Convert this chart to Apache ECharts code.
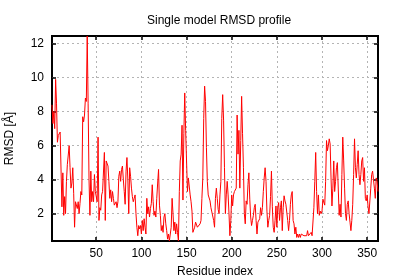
<!DOCTYPE html>
<html>
<head>
<meta charset="utf-8">
<script src="https://cdn.jsdelivr.net/npm/echarts@6/dist/echarts.min.js"></script>
<style>
html,body{margin:0;padding:0;background:#fff;}
#chart{width:400px;height:280px;}
</style>
</head>
<body>
<div id="chart"></div>
<script>
// RMSD per residue (residue 1 .. 362)
var rmsd = [
  8.4, 7.3, 8.0, 7.0, 9.9, 8.5, 6.2, 6.6, 6.5, 6.8,
  6.7, 2.4, 4.4, 1.9, 3.0, 2.0, 3.9, 4.9, 4.8, 6.0,
  4.7, 3.5, 3.8, 4.7, 3.2, 1.2, 2.7, 2.8, 2.3, 2.7,
  2.0, 2.6, 3.3, 3.1, 7.7, 7.4, 7.8, 8.8, 8.6, 12.45,
  8.5, 4.0, 1.9, 4.5, 2.7, 3.3, 2.7, 4.3, 3.3, 3.3,
  2.7, 6.5, 1.6, 2.35, 2.2, 3.1, 3.3, 3.3, 5.6, 1.6,
  5.1, 5.0, 4.8, 3.9, 2.9, 3.4, 2.7, 3.3, 2.9, 2.5,
  2.5, 2.7, 2.35, 2.7, 4.2, 4.5, 3.9, 4.6, 4.8, 4.0,
  3.3, 2.55, 4.5, 5.3, 4.0, 2.0, 4.7, 4.2, 3.5, 3.0,
  2.7, 2.9, 3.1, 2.0, 1.2, 0.7, 1.3, 1.1, 1.3, 0.8,
  1.6, 1.0, 1.7, 1.2, 0.8, 2.9, 2.0, 2.4, 1.8, 2.3,
  2.6, 3.7, 2.7, 1.9, 2.15, 1.8, 2.9, 3.8, 4.6, 2.5,
  1.9, 1.0, 1.3, 0.9, 1.8, 2.0, 1.4, 1.0, 0.5, 0.8,
  0.4, 0.5, 1.2, 2.9, 2.0, 1.0, 1.5, 0.8, 1.4, 0.9,
  0.4, 3.3, 5.1, 5.5, 7.2, 2.8, 6.7, 9.1, 6.9, 6.9,
  3.3, 4.1, 4.0, 3.1, 2.7, 2.15, 0.9, 0.8, 1.2, 1.5,
  1.4, 1.2, 1.3, 1.2, 1.4, 1.6, 2.9, 4.1, 7.6, 9.5,
  8.6, 5.9, 3.9, 3.1, 3.2, 2.75, 2.35, 2.1, 2.0, 1.6,
  1.2, 2.9, 3.5, 2.9, 2.25, 2.0, 3.1, 3.9, 7.6, 9.0,
  7.5, 4.7, 2.0, 3.1, 3.9, 3.1, 2.0, 0.7, 1.6, 3.1,
  2.45, 3.1, 3.3, 3.2, 3.5, 7.8, 5.5, 6.9, 3.5, 6.3,
  8.9, 6.7, 4.7, 2.0, 1.4, 2.75, 2.55, 3.7, 4.4, 2.85,
  1.8, 1.3, 1.6, 1.9, 2.35, 2.55, 1.6, 0.8, 1.5, 1.4,
  1.7, 2.35, 1.9, 2.35, 3.3, 4.1, 4.7, 3.9, 2.15, 1.2,
  1.6, 1.9, 3.0, 4.5, 2.4, 1.2, 0.9, 1.6, 2.45, 1.2,
  2.35, 2.65, 1.6, 2.35, 2.75, 1.0, 2.35, 3.05, 2.75, 2.55,
  2.65, 1.6, 1.0, 1.6, 2.55, 3.1, 3.3, 1.6, 1.4, 0.8,
  1.2, 0.6, 0.8, 0.6, 0.8, 0.6, 0.8, 0.7, 0.8, 0.7,
  0.6, 0.8, 0.7, 1.0, 0.7, 0.8, 0.6, 0.9, 0.7, 0.6,
  2.35, 3.9, 5.6, 3.3, 2.0, 3.1, 1.9, 2.15, 2.0, 2.15,
  2.85, 2.85, 2.5, 3.9, 6.3, 5.7, 6.0, 6.4, 6.1, 4.1,
  2.45, 3.5, 5.1, 3.3, 3.9, 4.7, 5.0, 4.9, 1.9, 2.55,
  1.8, 4.3, 6.5, 5.1, 3.5, 2.0, 1.6, 2.55, 2.75, 2.0,
  1.5, 1.0, 1.6, 2.55, 4.3, 6.4, 4.7, 4.1, 4.9, 5.7,
  4.3, 3.7, 4.3, 5.1, 5.3, 3.9, 4.7, 2.9, 2.75, 3.1,
  2.4, 2.0, 2.75, 3.5, 4.3, 4.5, 4.0, 3.5, 2.9, 4.1,
  3.9, 3.3
];
var firstResidue = 1;
var xTicks = [50, 100, 150, 200, 250, 300, 350];
var yTicks = [2, 4, 6, 8, 10, 12];
var xRange = [1, 362];
var yRange = [0.39, 12.45];

var seriesData = rmsd.map(function (v, i) { return [firstResidue + i, v]; });

var FONT = 'Liberation Sans, Arial, sans-serif';
var gridLine = { show: true, lineStyle: { color: '#b4b4b4', width: 1, type: [2, 3] } };

function xAx(pos, showLabels) {
  return {
    type: 'value', position: pos, min: xRange[0], max: xRange[1],
    axisLine: { show: false },
    axisTick: { show: true, inside: true, length: 4, customValues: xTicks,
                lineStyle: { color: '#000', width: 1.5 } },
    axisLabel: { show: showLabels, customValues: xTicks, margin: 7,
                 color: '#000', fontSize: 12, fontFamily: FONT },
    splitLine: showLabels ? gridLine : { show: false },
    name: showLabels ? 'Residue index' : '',
    nameLocation: 'middle', nameGap: 25,
    nameTextStyle: { color: '#000', fontSize: 12, fontFamily: FONT }
  };
}
function yAx(pos, showLabels) {
  return {
    type: 'value', position: pos, min: yRange[0], max: yRange[1],
    axisLine: { show: false },
    axisTick: { show: true, inside: true, length: 4, customValues: yTicks,
                lineStyle: { color: '#000', width: 1.5 } },
    axisLabel: { show: showLabels, customValues: yTicks, margin: 8,
                 color: '#000', fontSize: 12, fontFamily: FONT },
    splitLine: showLabels ? gridLine : { show: false },
    name: showLabels ? 'RMSD [Å]' : '',
    nameLocation: 'middle', nameGap: 36, nameRotate: 90,
    nameTextStyle: { color: '#000', fontSize: 12, fontFamily: FONT }
  };
}

var chart = echarts.init(document.getElementById('chart'), null, { renderer: 'canvas' });
chart.setOption({
  animation: false,
  backgroundColor: '#fff',
  title: {
    text: 'Single model RMSD profile',
    left: 142, top: 10,
    textStyle: { color: '#000', fontSize: 12, fontWeight: 'normal', fontFamily: FONT }
  },
  grid: { left: 52, right: 22, top: 36, bottom: 39, show: true,
          outerBoundsMode: 'none', containLabel: false,
          borderColor: '#000', borderWidth: 2, backgroundColor: 'transparent' },
  xAxis: [xAx('bottom', true), xAx('top', false)],
  yAxis: [yAx('left', true), yAx('right', false)],
  series: [{
    type: 'line',
    data: seriesData,
    showSymbol: false,
    clip: true,
    lineStyle: { color: '#ff0000', width: 1 },
    itemStyle: { color: '#ff0000' }
  }]
});
</script>
</body>
</html>
